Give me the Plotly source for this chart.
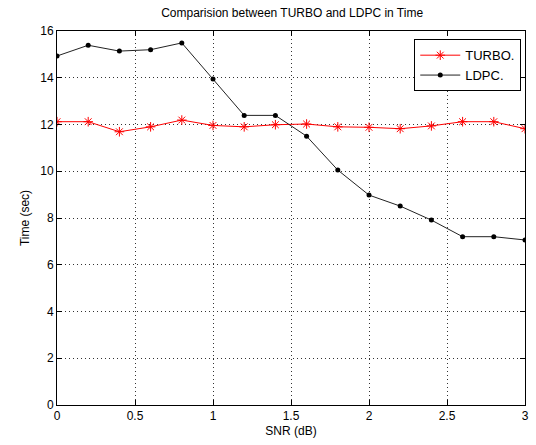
import plotly.graph_objects as go

snr = [0, 0.2, 0.4, 0.6, 0.8, 1.0, 1.2, 1.4, 1.6, 1.8, 2.0, 2.2, 2.4, 2.6, 2.8, 3.0]
turbo = [12.12, 12.12, 11.69, 11.9, 12.19, 11.96, 11.9, 11.99, 12.02, 11.9, 11.88, 11.82, 11.94, 12.12, 12.12, 11.82]
ldpc = [14.93, 15.39, 15.14, 15.2, 15.49, 13.95, 12.39, 12.39, 11.5, 10.05, 8.98, 8.51, 7.91, 7.2, 7.2, 7.06]
x_ticks = [0, 0.5, 1, 1.5, 2, 2.5, 3]
x_tick_labels = ["0", "0.5", "1", "1.5", "2", "2.5", "3"]
y_ticks = [0, 2, 4, 6, 8, 10, 12, 14, 16]

font_family = "Liberation Sans, Arial, sans-serif"

fig = go.Figure()
fig.add_trace(go.Scatter(
    x=snr, y=turbo, mode="lines+markers", name="TURBO.",
    line=dict(color="#ff0000", width=1),
    marker=dict(symbol="asterisk-open", size=8, color="#ff0000", line=dict(color="#ff0000", width=1)),
))
fig.add_trace(go.Scatter(
    x=snr, y=ldpc, mode="lines+markers", name="LDPC.",
    line=dict(color="#222222", width=1),
    marker=dict(symbol="circle", size=5, color="#000000"),
))

axis_common = dict(
    showline=True, linecolor="black", linewidth=1, mirror="ticks",
    ticks="inside", ticklen=5, tickcolor="black",
    showgrid=True, gridcolor="#333333", griddash="1px,3px", gridwidth=1,
    zeroline=False, tickfont=dict(size=12, color="black", family=font_family),
)

fig.update_layout(
    width=536, height=445,
    margin=dict(l=57, r=7, t=31, b=40),
    paper_bgcolor="white", plot_bgcolor="white",
    font=dict(family=font_family, size=12, color="black"),
    title=dict(text="Comparision between TURBO and LDPC in Time", x=0.545, xanchor="center",
               y=0.972, yanchor="middle", font=dict(size=12, color="black")),
    xaxis=dict(range=[0, 3], tickvals=x_ticks, ticktext=x_tick_labels,
               title=dict(text="SNR (dB)", standoff=4, font=dict(size=12)), **axis_common),
    yaxis=dict(range=[0, 16], tickvals=y_ticks,
               title=dict(text="Time (sec)", standoff=8, font=dict(size=12)), **axis_common),
    legend=dict(x=0.992, y=0.978, xanchor="right", yanchor="top",
                bordercolor="black", borderwidth=1, bgcolor="white",
                font=dict(size=13, color="black"), itemwidth=40,
                tracegroupgap=0),
    showlegend=True,
)

fig.write_html("out.html")
